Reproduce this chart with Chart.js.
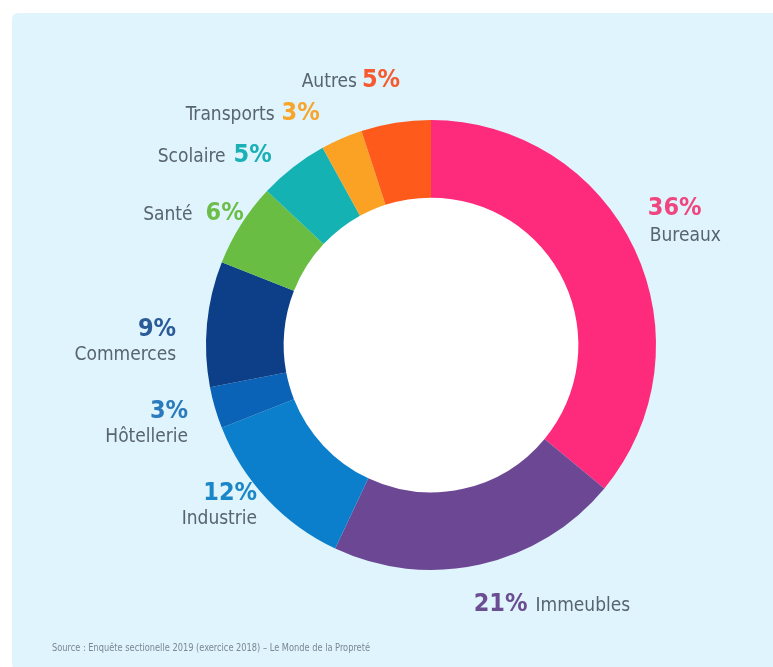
<!DOCTYPE html>
<html lang="fr">
<head>
<meta charset="utf-8">
<script src="https://cdn.jsdelivr.net/npm/chart.js@4/dist/chart.umd.min.js"></script>
<style>
  html, body { margin: 0; padding: 0; background: #ffffff; }
  #wrap { position: relative; width: 773px; height: 667px; overflow: hidden; }
  #panel { position: absolute; left: 12px; top: 13px; width: 770px; height: 660px; background: #dff4fc; border-radius: 6px 0 0 10px; }
  #c { position: absolute; left: 0; top: 0; }
</style>
</head>
<body>
<div id="wrap">
  <div id="panel"></div>
  <canvas id="c" width="773" height="667"></canvas>
</div>
<script>
// ---- Data ----
const categories = ['Bureaux', 'Immeubles', 'Industrie', 'Hôtellerie', 'Commerces', 'Santé', 'Scolaire', 'Transports', 'Autres'];
const values = [36, 21, 12, 3, 9, 6, 5, 3, 5];
const sourceText = 'Source : Enquête sectionelle 2019 (exercice 2018) – Le Monde de la Propreté';

// ---- Styles ----
const segmentColors = ['#fe2a7c', '#6c4894', '#0b7fcc', '#0a63b6', '#0d3f88', '#6abd43', '#14b2b3', '#fba224', '#fe5a1c'];
const pctColors = ['#f0457f', '#6b4d92', '#1b86c8', '#2a7abd', '#2b5a98', '#6cbd4a', '#1ab0b5', '#f7a62b', '#f55a30'];
const labelGray = '#58646e';
// layout per label: mode, dx, dy (nudges from the arc-anchored point)
const labelModes = ['stackLeft', 'pctFirst', 'stackRight', 'stackRight', 'stackRight', 'nameFirst', 'nameFirst', 'nameFirst', 'nameFirst'];
const labelDx = [-14, -13, 12, 2, -1, 28, -3, -10, 9];
const labelDy = [-15, 8, -14, 7, 20, 3, 9, 0, -15];
const nameGap = [0, 8, 0, 0, 0, 13, 8, 7, 5];
const FONT = "'DejaVu Sans Condensed', 'Liberation Sans Narrow', 'Roboto', sans-serif";

const holePlugin = {
  id: 'hole',
  beforeDatasetsDraw(chart) {
    const arc = chart.getDatasetMeta(0).data[0];
    if (!arc) return;
    const { x, y, innerRadius } = arc.getProps(['x', 'y', 'innerRadius'], true);
    const ctx = chart.ctx;
    ctx.save();
    ctx.beginPath();
    ctx.arc(x, y, innerRadius + 1, 0, Math.PI * 2);
    ctx.fillStyle = '#ffffff';
    ctx.fill();
    ctx.restore();
  }
};

const labelPlugin = {
  id: 'labels',
  afterDatasetsDraw(chart) {
    const ctx = chart.ctx;
    const meta = chart.getDatasetMeta(0);
    ctx.save();
    meta.data.forEach((arc, i) => {
      const p = arc.getProps(['x', 'y', 'startAngle', 'endAngle', 'outerRadius'], true);
      const mid = (p.startAngle + p.endAngle) / 2;
      const r = p.outerRadius + 30;
      const ax = p.x + r * Math.cos(mid) + labelDx[i];
      const ay = p.y + r * Math.sin(mid) + labelDy[i];
      const pct = values[i] + '%';
      const name = categories[i];
      const pctFont = 'bold 25px ' + FONT;
      const nameFont = '19px ' + FONT;
      ctx.font = pctFont;
      const pw = ctx.measureText(pct).width;
      const mode = labelModes[i];
      if (mode === 'nameFirst') {
        ctx.textBaseline = 'alphabetic';
        ctx.textAlign = 'right';
        ctx.font = pctFont; ctx.fillStyle = pctColors[i];
        ctx.fillText(pct, ax, ay + 9);
        ctx.font = nameFont; ctx.fillStyle = labelGray;
        ctx.fillText(name, ax - pw - nameGap[i], ay + 9);
      } else if (mode === 'pctFirst') {
        ctx.textBaseline = 'alphabetic';
        ctx.textAlign = 'left';
        ctx.font = pctFont; ctx.fillStyle = pctColors[i];
        ctx.fillText(pct, ax, ay + 9);
        ctx.font = nameFont; ctx.fillStyle = labelGray;
        ctx.fillText(name, ax + pw + nameGap[i], ay + 9);
      } else if (mode === 'stackRight') {
        ctx.textBaseline = 'middle';
        ctx.textAlign = 'right';
        ctx.font = pctFont; ctx.fillStyle = pctColors[i];
        ctx.fillText(pct, ax, ay - 12);
        ctx.font = nameFont; ctx.fillStyle = labelGray;
        ctx.fillText(name, ax, ay + 14);
      } else {
        ctx.textBaseline = 'middle';
        ctx.textAlign = 'left';
        ctx.font = pctFont; ctx.fillStyle = pctColors[i];
        ctx.fillText(pct, ax, ay - 13);
        ctx.font = nameFont; ctx.fillStyle = labelGray;
        ctx.fillText(name, ax + 2, ay + 15);
      }
    });
    // source line
    ctx.textAlign = 'left';
    ctx.textBaseline = 'middle';
    ctx.font = '11px ' + FONT;
    ctx.fillStyle = '#7b8792';
    ctx.fillText(sourceText, 52, 648, 318);
    ctx.restore();
  }
};

new Chart(document.getElementById('c'), {
  type: 'doughnut',
  data: {
    labels: categories,
    datasets: [{
      data: values,
      backgroundColor: segmentColors,
      borderWidth: 0,
      hoverOffset: 0,
      offset: 0
    }]
  },
  options: {
    responsive: false,
    animation: false,
    devicePixelRatio: 1,
    cutout: '65.5%',
    rotation: 0,
    layout: { padding: { top: 120, bottom: 97, left: 206, right: 117 } },
    plugins: {
      legend: { display: false },
      tooltip: { enabled: false }
    },
    events: []
  },
  plugins: [holePlugin, labelPlugin]
});
</script>
</body>
</html>
